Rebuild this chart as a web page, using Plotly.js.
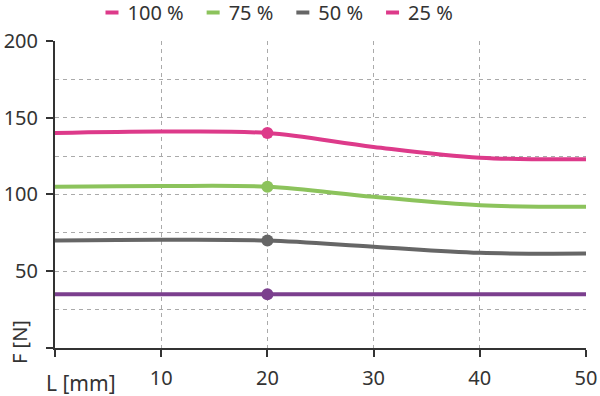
<!DOCTYPE html>
<html><head><meta charset="utf-8">
<script src="https://cdn.plot.ly/plotly-3.0.1.min.js"></script>
<style>body{margin:0;background:#fff}#c{width:600px;height:396px}</style>
</head><body><div id="c"></div>
<script>
const xL = [0, 10, 20, 30, 40, 50];
const f100 = [140, 141, 140, 131, 124, 123];
const f75 = [105, 105.5, 105, 98.5, 93, 92];
const f50 = [70, 70.5, 70, 66, 62, 61.5];
const f25 = [35, 35, 35, 35, 35, 35];
const markerX = [20];
const names = ['100 %', '75 %', '50 %', '25 %'];
const colors = ['#dd3a8a', '#8cc35c', '#666666', '#7b3f8e'];
const legendColor25 = '#dd3a8a';
const xTickVals = [0, 10, 20, 30, 40, 50];
const xTickText = ['', '10', '20', '30', '40', '50'];
const yTickVals = [0, 50, 100, 150, 200];
const yTickText = ['', '50', '100', '150', '200'];

const series = [f100, f75, f50, f25];
const traces = [];
series.forEach((s, i) => {
  traces.push({
    x: xL, y: s, mode: 'lines', name: names[i],
    line: {color: colors[i], width: 4, shape: 'spline', smoothing: 1},
    showlegend: i < 3
  });
});
series.forEach((s, i) => {
  traces.push({
    x: markerX, y: markerX.map(v => s[xL.indexOf(v)]), mode: 'markers',
    marker: {color: colors[i], size: 12}, showlegend: false, hoverinfo: 'skip'
  });
});
traces.push({x: [null], y: [null], mode: 'lines', name: names[3],
  line: {color: legendColor25, width: 4}, showlegend: true});

const fam = 'Noto Sans, Open Sans, sans-serif';
const font = {family: fam, size: 20, color: '#333'};
const layout = {
  width: 600, height: 396,
  margin: {l: 55, r: 14, t: 40, b: 48},
  paper_bgcolor: '#fff', plot_bgcolor: '#fff',
  font: font,
  showlegend: true,
  legend: {orientation: 'h', x: 0.455, xanchor: 'center', xref: 'container',
    y: 0.995, yanchor: 'top', yref: 'container',
    font: {family: fam, size: 20, color: '#333'}, itemwidth: 30,
    traceorder: 'normal', bgcolor: 'rgba(0,0,0,0)'},
  xaxis: {range: [0, 50], tickvals: xTickVals, ticktext: xTickText,
    showline: true, linecolor: '#333', linewidth: 2, ticks: 'outside', ticklen: 7,
    tickwidth: 2, tickcolor: '#333', showgrid: true, gridcolor: '#aaa', griddash: '4px,4px',
    gridwidth: 1, zeroline: false, fixedrange: true, ticklabelstandoff: 4},
  yaxis: {range: [0, 200], tickvals: yTickVals, ticktext: yTickText,
    showline: true, linecolor: '#333', linewidth: 2, ticks: 'outside', ticklen: 7,
    tickwidth: 2, tickcolor: '#333', showgrid: true, gridcolor: '#aaa', griddash: '4px,4px',
    gridwidth: 1, zeroline: false, ticklabelstandoff: 4,
    minor: {dtick: 25, tick0: 0, showgrid: true, gridcolor: '#aaa', griddash: '4px,4px', gridwidth: 1},
    fixedrange: true},
  annotations: [
    {text: 'L [mm]', xref: 'paper', yref: 'paper', x: 0, y: 0, xanchor: 'left', yanchor: 'middle',
     yshift: -35, xshift: -11, showarrow: false, font: {family: fam, size: 21, color: '#333'}},
    {text: 'F [N]', xref: 'paper', yref: 'paper', x: 0, y: 0, xanchor: 'center', yanchor: 'middle',
     xshift: -36, yshift: 6, textangle: -90, showarrow: false, font: font}
  ]
};
Plotly.newPlot('c', traces, layout, {displayModeBar: false, staticPlot: true}).then(() => {
  document.querySelectorAll('#c .legendlines path').forEach(p => p.setAttribute('d', 'M18,0h13'));
  const lg = document.querySelector('#c g.legend');
  if (lg) {
    const t = lg.getAttribute('transform') || '';
    const m = t.match(/translate\(\s*([-\d.]+)[ ,]+([-\d.]+)\s*\)/);
    if (m) lg.setAttribute('transform', 'translate(' + m[1] + ',' + (parseFloat(m[2]) - 9) + ')');
  }
});
</script></body></html>
